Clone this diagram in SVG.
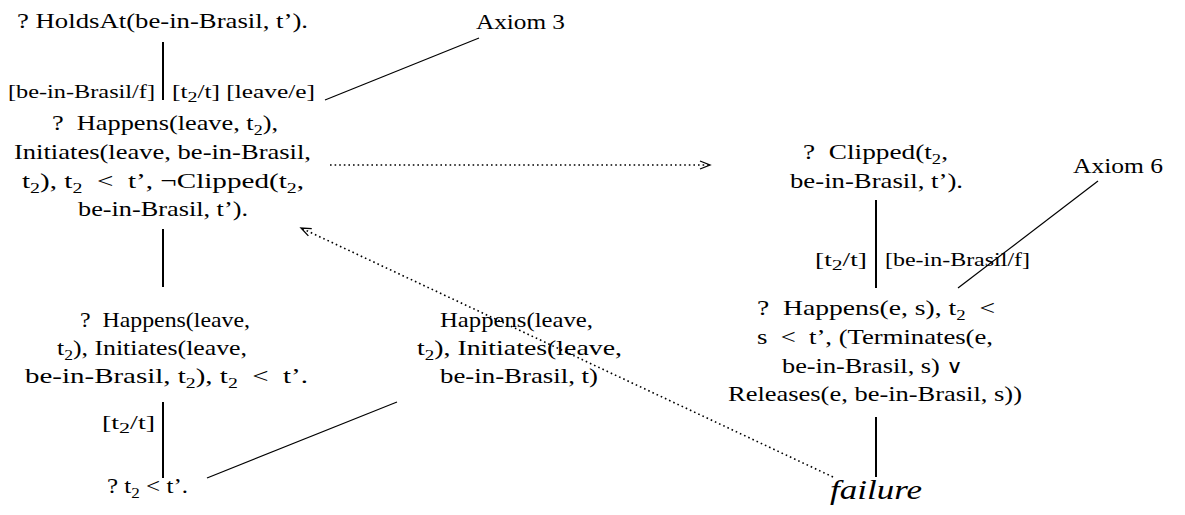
<svg xmlns="http://www.w3.org/2000/svg" width="1185" height="515" viewBox="0 0 1185 515" font-family="'Liberation Serif', 'DejaVu Serif', 'Times New Roman', serif">
<style>
text{font-family:'Liberation Serif','DejaVu Serif','Times New Roman',serif;fill:#000}
.m{font-size:22px}
.l{font-size:19px}
.s{font-size:15px}
.or{font-family:'DejaVu Serif',serif;font-size:19px}
.it{font-style:italic;font-size:27px}
.edge{stroke:#000;stroke-width:2;fill:none}
.thin{stroke:#000;stroke-width:1.2;fill:none}
.dot{stroke:#000;stroke-width:1.6;fill:none;stroke-dasharray:1.6 3}
</style>
<defs>
<marker id="open" markerUnits="userSpaceOnUse" markerWidth="14" markerHeight="12" refX="11" refY="5" orient="auto">
<path d="M1,1 L11,5 L1,9" fill="none" stroke="#000" stroke-width="1.3" stroke-dasharray="none"/>
</marker>
</defs>
<rect width="1185" height="515" fill="#fff"/>

<g id="connectors">
<line class="edge" x1="163" y1="42" x2="163" y2="100"/>
<line class="edge" x1="163" y1="229" x2="163" y2="287"/>
<line class="edge" x1="163" y1="402" x2="163" y2="478"/>
<line class="edge" x1="876" y1="200" x2="876" y2="288"/>
<line class="edge" x1="876" y1="417" x2="876" y2="477"/>
<line class="thin" x1="325" y1="100" x2="479" y2="38"/>
<line class="thin" x1="958" y1="288" x2="1098" y2="181"/>
<line class="thin" x1="207" y1="478" x2="397" y2="402"/>
<line class="dot" x1="330" y1="165" x2="710" y2="165" marker-end="url(#open)"/>
<line class="dot" x1="833" y1="477" x2="301" y2="228" marker-end="url(#open)"/>
<text class="l" x="8" y="98" textLength="147" lengthAdjust="spacingAndGlyphs">[be-in-Brasil/f]</text>
<text class="l" x="172" y="98" textLength="143" lengthAdjust="spacingAndGlyphs">[t<tspan class="s" dy="4">2</tspan><tspan dy="-4">/t] [leave/e]</tspan></text>
<text class="l" x="815" y="266" textLength="52" lengthAdjust="spacingAndGlyphs">[t<tspan class="s" dy="4">2</tspan><tspan dy="-4">/t]</tspan></text>
<text class="l" x="885" y="266" textLength="145" lengthAdjust="spacingAndGlyphs">[be-in-Brasil/f]</text>
<text class="l" x="102" y="429" textLength="53" lengthAdjust="spacingAndGlyphs">[t<tspan class="s" dy="4">2</tspan><tspan dy="-4">/t]</tspan></text>
</g>

<g id="n-holdsat">
<text class="m" x="17" y="28" textLength="291" lengthAdjust="spacingAndGlyphs">? HoldsAt(be-in-Brasil, t’).</text>
</g>

<g id="axiom3">
<text class="m" x="476" y="29" textLength="89" lengthAdjust="spacingAndGlyphs">Axiom 3</text>
</g>

<g id="n-happens1">
<text class="m" x="52" y="130" textLength="226" lengthAdjust="spacingAndGlyphs">?&#160; Happens(leave, t<tspan class="s" dy="5">2</tspan><tspan dy="-5">),</tspan></text>
<text class="m" x="14" y="159" textLength="297" lengthAdjust="spacingAndGlyphs">Initiates(leave, be-in-Brasil,</text>
<text class="m" x="22" y="188" textLength="282" lengthAdjust="spacingAndGlyphs">t<tspan class="s" dy="5">2</tspan><tspan dy="-5">), t</tspan><tspan class="s" dy="5">2</tspan><tspan dy="-5">&#160; &lt;&#160; t’, ¬Clipped(t</tspan><tspan class="s" dy="5">2</tspan><tspan dy="-5">,</tspan></text>
<text class="m" x="78" y="216" textLength="170" lengthAdjust="spacingAndGlyphs">be-in-Brasil, t’).</text>
</g>

<g id="n-clipped">
<text class="m" x="803" y="159" textLength="145" lengthAdjust="spacingAndGlyphs">?&#160; Clipped(t<tspan class="s" dy="5">2</tspan><tspan dy="-5">,</tspan></text>
<text class="m" x="790" y="188" textLength="173" lengthAdjust="spacingAndGlyphs">be-in-Brasil, t’).</text>
</g>

<g id="axiom6">
<text class="m" x="1073" y="173" textLength="90" lengthAdjust="spacingAndGlyphs">Axiom 6</text>
</g>

<g id="n-happens-e">
<text class="m" x="757" y="315" textLength="238" lengthAdjust="spacingAndGlyphs">?&#160; Happens(e, s), t<tspan class="s" dy="5">2</tspan><tspan dy="-5">&#160; &lt;</tspan></text>
<text class="m" x="757" y="344" textLength="236" lengthAdjust="spacingAndGlyphs">s&#160; &lt;&#160; t’, (Terminates(e,</text>
<text class="m" x="782" y="373" textLength="181" lengthAdjust="spacingAndGlyphs">be-in-Brasil, s) <tspan class="or">∨</tspan></text>
<text class="m" x="728" y="401" textLength="294" lengthAdjust="spacingAndGlyphs">Releases(e, be-in-Brasil, s))</text>
</g>

<g id="n-failure">
<text class="it" x="830" y="499" textLength="92" lengthAdjust="spacingAndGlyphs">failure</text>
</g>

<g id="n-happens2">
<text class="m" x="80" y="327" textLength="170" lengthAdjust="spacingAndGlyphs">?&#160; Happens(leave,</text>
<text class="m" x="57" y="355" textLength="190" lengthAdjust="spacingAndGlyphs">t<tspan class="s" dy="5">2</tspan><tspan dy="-5">), Initiates(leave,</tspan></text>
<text class="m" x="25" y="383" textLength="283" lengthAdjust="spacingAndGlyphs">be-in-Brasil, t<tspan class="s" dy="5">2</tspan><tspan dy="-5">), t</tspan><tspan class="s" dy="5">2</tspan><tspan dy="-5">&#160; &lt;&#160; t’.</tspan></text>
</g>

<g id="n-lt">
<text class="m" x="107" y="493" textLength="81" lengthAdjust="spacingAndGlyphs">? t<tspan class="s" dy="5">2</tspan><tspan dy="-5"> &lt; t’.</tspan></text>
</g>

<g id="n-happens3">
<text class="m" x="440" y="327" textLength="153" lengthAdjust="spacingAndGlyphs">Happens(leave,</text>
<text class="m" x="417" y="355" textLength="205" lengthAdjust="spacingAndGlyphs">t<tspan class="s" dy="5">2</tspan><tspan dy="-5">), Initiates(leave,</tspan></text>
<text class="m" x="440" y="383" textLength="158" lengthAdjust="spacingAndGlyphs">be-in-Brasil, t)</text>
</g>
</svg>
